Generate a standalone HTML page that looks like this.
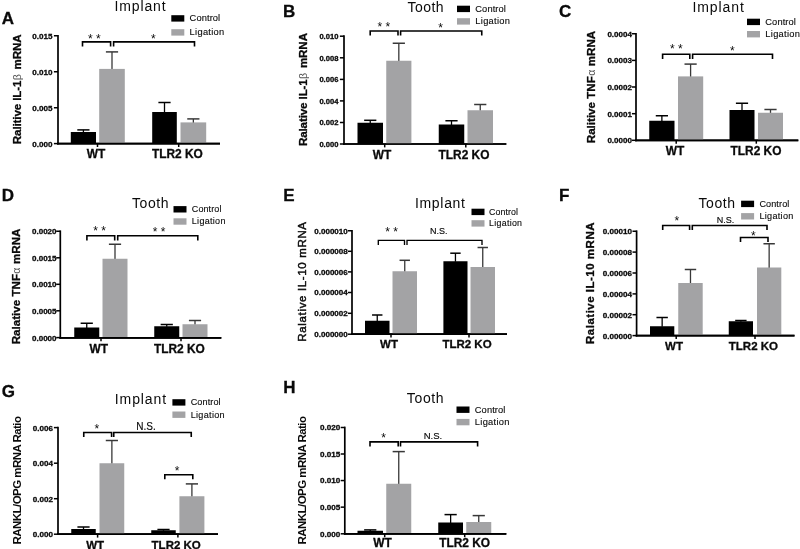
<!DOCTYPE html>
<html><head><meta charset="utf-8"><title>Figure</title>
<style>
html,body{margin:0;padding:0;background:#fff;}
body{width:800px;height:549px;overflow:hidden;}
svg{display:block;will-change:transform;filter:blur(0.35px);font-family:"Liberation Sans",sans-serif;fill:#111;}
svg text{fill:#0a0a0a;}
</style></head><body>
<svg width="800" height="549" viewBox="0 0 800 549">
<rect x="0" y="0" width="800" height="549" fill="#ffffff"/>
<g id="panel-A">
<line x1="58.00" y1="34.90" x2="58.00" y2="144.45" stroke="#000" stroke-width="1.7"/>
<line x1="57.15" y1="143.60" x2="220.00" y2="143.60" stroke="#000" stroke-width="1.7"/>
<line x1="53.90" y1="35.75" x2="58.00" y2="35.75" stroke="#000" stroke-width="1.5"/>
<text x="52.40" y="38.65" font-size="8.1" font-weight="bold" text-anchor="end"  stroke="#0a0a0a" stroke-width="0.3">0.015</text>
<line x1="53.90" y1="71.75" x2="58.00" y2="71.75" stroke="#000" stroke-width="1.5"/>
<text x="52.40" y="74.65" font-size="8.1" font-weight="bold" text-anchor="end"  stroke="#0a0a0a" stroke-width="0.3">0.010</text>
<line x1="53.90" y1="107.75" x2="58.00" y2="107.75" stroke="#000" stroke-width="1.5"/>
<text x="52.40" y="110.65" font-size="8.1" font-weight="bold" text-anchor="end"  stroke="#0a0a0a" stroke-width="0.3">0.005</text>
<line x1="53.90" y1="143.60" x2="58.00" y2="143.60" stroke="#000" stroke-width="1.5"/>
<text x="52.40" y="146.50" font-size="8.1" font-weight="bold" text-anchor="end"  stroke="#0a0a0a" stroke-width="0.3">0.000</text>
<line x1="97.50" y1="143.60" x2="97.50" y2="147.00" stroke="#000" stroke-width="1.5"/>
<line x1="178.70" y1="143.60" x2="178.70" y2="147.00" stroke="#000" stroke-width="1.5"/>
<line x1="83.40" y1="129.90" x2="83.40" y2="132.50" stroke="#000" stroke-width="1.3"/>
<line x1="77.30" y1="129.90" x2="89.50" y2="129.90" stroke="#000" stroke-width="1.5"/>
<rect x="70.80" y="132.00" width="25.20" height="11.60" fill="#000"/>
<line x1="112.00" y1="51.90" x2="112.00" y2="69.40" stroke="#383838" stroke-width="1.3"/>
<line x1="105.90" y1="51.90" x2="118.10" y2="51.90" stroke="#383838" stroke-width="1.5"/>
<rect x="99.20" y="68.90" width="25.60" height="74.70" fill="#a3a3a5"/>
<line x1="164.50" y1="102.50" x2="164.50" y2="112.50" stroke="#000" stroke-width="1.3"/>
<line x1="158.40" y1="102.50" x2="170.60" y2="102.50" stroke="#000" stroke-width="1.5"/>
<rect x="152.20" y="112.00" width="24.60" height="31.60" fill="#000"/>
<line x1="193.35" y1="118.90" x2="193.35" y2="122.90" stroke="#383838" stroke-width="1.3"/>
<line x1="187.25" y1="118.90" x2="199.45" y2="118.90" stroke="#383838" stroke-width="1.5"/>
<rect x="180.50" y="122.40" width="25.70" height="21.20" fill="#a3a3a5"/>
<line x1="57.15" y1="143.60" x2="220.00" y2="143.60" stroke="#000" stroke-width="1.7"/>
<polyline points="82.50,46.50 82.50,41.90 110.60,41.90 110.60,46.50" fill="none" stroke="#000" stroke-width="1.6"/>
<polyline points="113.60,46.50 113.60,41.90 194.50,41.90 194.50,46.50" fill="none" stroke="#000" stroke-width="1.6"/>
<text x="94.25" y="42.60" font-size="12" font-weight="normal" text-anchor="middle" >* *</text>
<text x="153.25" y="42.60" font-size="12" font-weight="normal" text-anchor="middle" >*</text>
<text x="96.00" y="158.30" font-size="11.9" font-weight="bold" text-anchor="middle"  stroke="#0a0a0a" stroke-width="0.3">WT</text>
<text x="177.40" y="158.30" font-size="11.9" font-weight="bold" text-anchor="middle"  stroke="#0a0a0a" stroke-width="0.3">TLR2 KO</text>
<text x="1.70" y="23.80" font-size="17" font-weight="bold" text-anchor="start"  stroke="#0a0a0a" stroke-width="0.3">A</text>
<text x="114.40" y="11.40" font-size="14" font-weight="normal" text-anchor="start" letter-spacing="0.9">Implant</text>
<rect x="171.30" y="15.20" width="13.00" height="6.40" fill="#000"/>
<rect x="171.30" y="29.20" width="13.00" height="6.40" fill="#a3a3a5"/>
<text x="189.60" y="21.30" font-size="9.3" font-weight="normal" text-anchor="start" letter-spacing="0.1" stroke="#0a0a0a" stroke-width="0.12">Control</text>
<text x="189.60" y="35.30" font-size="9.3" font-weight="normal" text-anchor="start" letter-spacing="0.3" stroke="#0a0a0a" stroke-width="0.12">Ligation</text>
<text x="0.00" y="0.00" font-size="11.6" font-weight="bold" text-anchor="middle" transform="translate(21.10,89.30) rotate(-90)" letter-spacing="-0.12" stroke="#0a0a0a" stroke-width="0.3">Ralitive IL-1<tspan dx="0.4" font-weight="normal" stroke="none" fill="#555" font-size="10.6">β</tspan><tspan dx="1.8"> </tspan>mRNA</text>
</g>
<g id="panel-B">
<line x1="344.00" y1="35.35" x2="344.00" y2="144.85" stroke="#000" stroke-width="1.7"/>
<line x1="343.15" y1="144.00" x2="506.30" y2="144.00" stroke="#000" stroke-width="1.7"/>
<line x1="339.90" y1="36.20" x2="344.00" y2="36.20" stroke="#000" stroke-width="1.5"/>
<text x="338.40" y="39.10" font-size="7.6" font-weight="bold" text-anchor="end"  stroke="#0a0a0a" stroke-width="0.3">0.010</text>
<line x1="339.90" y1="57.80" x2="344.00" y2="57.80" stroke="#000" stroke-width="1.5"/>
<text x="338.40" y="60.70" font-size="7.6" font-weight="bold" text-anchor="end"  stroke="#0a0a0a" stroke-width="0.3">0.008</text>
<line x1="339.90" y1="79.40" x2="344.00" y2="79.40" stroke="#000" stroke-width="1.5"/>
<text x="338.40" y="82.30" font-size="7.6" font-weight="bold" text-anchor="end"  stroke="#0a0a0a" stroke-width="0.3">0.006</text>
<line x1="339.90" y1="100.90" x2="344.00" y2="100.90" stroke="#000" stroke-width="1.5"/>
<text x="338.40" y="103.80" font-size="7.6" font-weight="bold" text-anchor="end"  stroke="#0a0a0a" stroke-width="0.3">0.004</text>
<line x1="339.90" y1="122.50" x2="344.00" y2="122.50" stroke="#000" stroke-width="1.5"/>
<text x="338.40" y="125.40" font-size="7.6" font-weight="bold" text-anchor="end"  stroke="#0a0a0a" stroke-width="0.3">0.002</text>
<line x1="339.90" y1="144.00" x2="344.00" y2="144.00" stroke="#000" stroke-width="1.5"/>
<text x="338.40" y="146.90" font-size="7.6" font-weight="bold" text-anchor="end"  stroke="#0a0a0a" stroke-width="0.3">0.000</text>
<line x1="384.70" y1="144.00" x2="384.70" y2="147.40" stroke="#000" stroke-width="1.5"/>
<line x1="465.80" y1="144.00" x2="465.80" y2="147.40" stroke="#000" stroke-width="1.5"/>
<line x1="370.25" y1="120.30" x2="370.25" y2="123.25" stroke="#000" stroke-width="1.3"/>
<line x1="364.15" y1="120.30" x2="376.35" y2="120.30" stroke="#000" stroke-width="1.5"/>
<rect x="357.50" y="122.75" width="25.50" height="21.25" fill="#000"/>
<line x1="398.82" y1="43.25" x2="398.82" y2="61.25" stroke="#383838" stroke-width="1.3"/>
<line x1="392.72" y1="43.25" x2="404.93" y2="43.25" stroke="#383838" stroke-width="1.5"/>
<rect x="386.25" y="60.75" width="25.15" height="83.25" fill="#a3a3a5"/>
<line x1="451.50" y1="120.75" x2="451.50" y2="125.00" stroke="#000" stroke-width="1.3"/>
<line x1="445.40" y1="120.75" x2="457.60" y2="120.75" stroke="#000" stroke-width="1.5"/>
<rect x="438.75" y="124.50" width="25.50" height="19.50" fill="#000"/>
<line x1="480.25" y1="104.50" x2="480.25" y2="110.75" stroke="#383838" stroke-width="1.3"/>
<line x1="474.15" y1="104.50" x2="486.35" y2="104.50" stroke="#383838" stroke-width="1.5"/>
<rect x="467.50" y="110.25" width="25.50" height="33.75" fill="#a3a3a5"/>
<line x1="343.15" y1="144.00" x2="506.30" y2="144.00" stroke="#000" stroke-width="1.7"/>
<polyline points="370.20,35.60 370.20,31.00 398.00,31.00 398.00,35.60" fill="none" stroke="#000" stroke-width="1.6"/>
<polyline points="400.60,35.60 400.60,31.00 481.75,31.00 481.75,35.60" fill="none" stroke="#000" stroke-width="1.6"/>
<text x="383.75" y="31.00" font-size="12" font-weight="normal" text-anchor="middle" >* *</text>
<text x="440.60" y="31.60" font-size="12" font-weight="normal" text-anchor="middle" >*</text>
<text x="382.00" y="158.80" font-size="11.9" font-weight="bold" text-anchor="middle"  stroke="#0a0a0a" stroke-width="0.3">WT</text>
<text x="464.00" y="158.80" font-size="11.9" font-weight="bold" text-anchor="middle"  stroke="#0a0a0a" stroke-width="0.3">TLR2 KO</text>
<text x="283.00" y="16.90" font-size="17" font-weight="bold" text-anchor="start"  stroke="#0a0a0a" stroke-width="0.3">B</text>
<text x="407.50" y="11.90" font-size="14" font-weight="normal" text-anchor="start" letter-spacing="0.45">Tooth</text>
<rect x="457.00" y="5.70" width="13.00" height="6.40" fill="#000"/>
<rect x="457.00" y="18.20" width="13.00" height="6.40" fill="#a3a3a5"/>
<text x="475.30" y="11.80" font-size="9.3" font-weight="normal" text-anchor="start" letter-spacing="0.1" stroke="#0a0a0a" stroke-width="0.12">Control</text>
<text x="475.30" y="24.30" font-size="9.3" font-weight="normal" text-anchor="start" letter-spacing="0.3" stroke="#0a0a0a" stroke-width="0.12">Ligation</text>
<text x="0.00" y="0.00" font-size="11.6" font-weight="bold" text-anchor="middle" transform="translate(306.90,89.60) rotate(-90)" letter-spacing="-0.12" stroke="#0a0a0a" stroke-width="0.3">Ralative IL-1<tspan dx="0.4" font-weight="normal" stroke="none" fill="#555" font-size="10.6">β</tspan><tspan dx="1.8"> </tspan>mRNA</text>
</g>
<g id="panel-C">
<line x1="636.00" y1="32.90" x2="636.00" y2="141.15" stroke="#000" stroke-width="1.7"/>
<line x1="635.15" y1="140.30" x2="798.30" y2="140.30" stroke="#000" stroke-width="1.7"/>
<line x1="631.90" y1="33.75" x2="636.00" y2="33.75" stroke="#000" stroke-width="1.5"/>
<text x="631.90" y="36.65" font-size="8.0" font-weight="bold" text-anchor="end"  stroke="#0a0a0a" stroke-width="0.3">0.0004</text>
<line x1="631.90" y1="60.40" x2="636.00" y2="60.40" stroke="#000" stroke-width="1.5"/>
<text x="631.90" y="63.30" font-size="8.0" font-weight="bold" text-anchor="end"  stroke="#0a0a0a" stroke-width="0.3">0.0003</text>
<line x1="631.90" y1="87.00" x2="636.00" y2="87.00" stroke="#000" stroke-width="1.5"/>
<text x="631.90" y="89.90" font-size="8.0" font-weight="bold" text-anchor="end"  stroke="#0a0a0a" stroke-width="0.3">0.0002</text>
<line x1="631.90" y1="113.70" x2="636.00" y2="113.70" stroke="#000" stroke-width="1.5"/>
<text x="631.90" y="116.60" font-size="8.0" font-weight="bold" text-anchor="end"  stroke="#0a0a0a" stroke-width="0.3">0.0001</text>
<line x1="631.90" y1="140.30" x2="636.00" y2="140.30" stroke="#000" stroke-width="1.5"/>
<text x="631.90" y="143.20" font-size="8.0" font-weight="bold" text-anchor="end"  stroke="#0a0a0a" stroke-width="0.3">0.0000</text>
<line x1="676.20" y1="140.30" x2="676.20" y2="143.70" stroke="#000" stroke-width="1.5"/>
<line x1="756.30" y1="140.30" x2="756.30" y2="143.70" stroke="#000" stroke-width="1.5"/>
<line x1="661.88" y1="115.75" x2="661.88" y2="121.25" stroke="#000" stroke-width="1.3"/>
<line x1="655.77" y1="115.75" x2="667.98" y2="115.75" stroke="#000" stroke-width="1.5"/>
<rect x="649.25" y="120.75" width="25.25" height="19.55" fill="#000"/>
<line x1="690.60" y1="64.10" x2="690.60" y2="76.90" stroke="#383838" stroke-width="1.3"/>
<line x1="684.50" y1="64.10" x2="696.70" y2="64.10" stroke="#383838" stroke-width="1.5"/>
<rect x="678.00" y="76.40" width="25.20" height="63.90" fill="#a3a3a5"/>
<line x1="742.00" y1="103.25" x2="742.00" y2="110.50" stroke="#000" stroke-width="1.3"/>
<line x1="735.90" y1="103.25" x2="748.10" y2="103.25" stroke="#000" stroke-width="1.5"/>
<rect x="729.50" y="110.00" width="25.00" height="30.30" fill="#000"/>
<line x1="770.50" y1="109.50" x2="770.50" y2="113.25" stroke="#383838" stroke-width="1.3"/>
<line x1="764.40" y1="109.50" x2="776.60" y2="109.50" stroke="#383838" stroke-width="1.5"/>
<rect x="758.00" y="112.75" width="25.00" height="27.55" fill="#a3a3a5"/>
<line x1="635.15" y1="140.30" x2="798.30" y2="140.30" stroke="#000" stroke-width="1.7"/>
<polyline points="662.60,58.90 662.60,54.30 689.80,54.30 689.80,58.90" fill="none" stroke="#000" stroke-width="1.6"/>
<polyline points="692.60,58.90 692.60,54.30 772.50,54.30 772.50,58.90" fill="none" stroke="#000" stroke-width="1.6"/>
<text x="676.30" y="53.10" font-size="12" font-weight="normal" text-anchor="middle" >* *</text>
<text x="732.30" y="54.90" font-size="12" font-weight="normal" text-anchor="middle" >*</text>
<text x="675.00" y="155.20" font-size="11.9" font-weight="bold" text-anchor="middle"  stroke="#0a0a0a" stroke-width="0.3">WT</text>
<text x="756.00" y="155.20" font-size="11.9" font-weight="bold" text-anchor="middle"  stroke="#0a0a0a" stroke-width="0.3">TLR2 KO</text>
<text x="559.00" y="17.40" font-size="17" font-weight="bold" text-anchor="start"  stroke="#0a0a0a" stroke-width="0.3">C</text>
<text x="692.50" y="11.50" font-size="14" font-weight="normal" text-anchor="start" letter-spacing="0.9">Implant</text>
<rect x="747.00" y="18.70" width="13.00" height="6.40" fill="#000"/>
<rect x="747.00" y="31.00" width="13.00" height="6.40" fill="#a3a3a5"/>
<text x="765.30" y="24.80" font-size="9.3" font-weight="normal" text-anchor="start" letter-spacing="0.1" stroke="#0a0a0a" stroke-width="0.12">Control</text>
<text x="765.30" y="37.10" font-size="9.3" font-weight="normal" text-anchor="start" letter-spacing="0.3" stroke="#0a0a0a" stroke-width="0.12">Ligation</text>
<text x="0.00" y="0.00" font-size="11.6" font-weight="bold" text-anchor="middle" transform="translate(594.60,87.00) rotate(-90)" letter-spacing="0" stroke="#0a0a0a" stroke-width="0.3">Ralitive TNF<tspan dx="0.4" font-weight="normal" stroke="none" fill="#555" font-size="10.6">α</tspan><tspan dx="0.3"> </tspan>mRNA</text>
</g>
<g id="panel-D">
<line x1="60.30" y1="230.40" x2="60.30" y2="338.65" stroke="#000" stroke-width="1.7"/>
<line x1="59.45" y1="337.80" x2="221.30" y2="337.80" stroke="#000" stroke-width="1.7"/>
<line x1="56.20" y1="231.25" x2="60.30" y2="231.25" stroke="#000" stroke-width="1.5"/>
<text x="56.50" y="234.15" font-size="8.0" font-weight="bold" text-anchor="end"  stroke="#0a0a0a" stroke-width="0.3">0.0020</text>
<line x1="56.20" y1="257.80" x2="60.30" y2="257.80" stroke="#000" stroke-width="1.5"/>
<text x="56.50" y="260.70" font-size="8.0" font-weight="bold" text-anchor="end"  stroke="#0a0a0a" stroke-width="0.3">0.0015</text>
<line x1="56.20" y1="284.30" x2="60.30" y2="284.30" stroke="#000" stroke-width="1.5"/>
<text x="56.50" y="287.20" font-size="8.0" font-weight="bold" text-anchor="end"  stroke="#0a0a0a" stroke-width="0.3">0.0010</text>
<line x1="56.20" y1="310.80" x2="60.30" y2="310.80" stroke="#000" stroke-width="1.5"/>
<text x="56.50" y="313.70" font-size="8.0" font-weight="bold" text-anchor="end"  stroke="#0a0a0a" stroke-width="0.3">0.0005</text>
<line x1="56.20" y1="337.60" x2="60.30" y2="337.60" stroke="#000" stroke-width="1.5"/>
<text x="56.50" y="340.50" font-size="8.0" font-weight="bold" text-anchor="end"  stroke="#0a0a0a" stroke-width="0.3">0.0000</text>
<line x1="101.00" y1="337.80" x2="101.00" y2="341.20" stroke="#000" stroke-width="1.5"/>
<line x1="181.00" y1="337.80" x2="181.00" y2="341.20" stroke="#000" stroke-width="1.5"/>
<line x1="86.75" y1="323.25" x2="86.75" y2="328.00" stroke="#000" stroke-width="1.3"/>
<line x1="80.65" y1="323.25" x2="92.85" y2="323.25" stroke="#000" stroke-width="1.5"/>
<rect x="74.25" y="327.50" width="25.00" height="10.30" fill="#000"/>
<line x1="115.00" y1="244.25" x2="115.00" y2="259.25" stroke="#383838" stroke-width="1.3"/>
<line x1="108.90" y1="244.25" x2="121.10" y2="244.25" stroke="#383838" stroke-width="1.5"/>
<rect x="102.50" y="258.75" width="25.00" height="79.05" fill="#a3a3a5"/>
<line x1="166.75" y1="324.50" x2="166.75" y2="326.75" stroke="#000" stroke-width="1.3"/>
<line x1="160.65" y1="324.50" x2="172.85" y2="324.50" stroke="#000" stroke-width="1.5"/>
<rect x="154.25" y="326.25" width="25.00" height="11.55" fill="#000"/>
<line x1="195.00" y1="320.50" x2="195.00" y2="324.75" stroke="#383838" stroke-width="1.3"/>
<line x1="188.90" y1="320.50" x2="201.10" y2="320.50" stroke="#383838" stroke-width="1.5"/>
<rect x="182.50" y="324.25" width="25.00" height="13.55" fill="#a3a3a5"/>
<line x1="59.45" y1="337.80" x2="221.30" y2="337.80" stroke="#000" stroke-width="1.7"/>
<polyline points="86.90,240.40 86.90,235.80 114.70,235.80 114.70,240.40" fill="none" stroke="#000" stroke-width="1.6"/>
<polyline points="117.70,240.40 117.70,235.80 197.80,235.80 197.80,240.40" fill="none" stroke="#000" stroke-width="1.6"/>
<text x="99.60" y="234.80" font-size="12" font-weight="normal" text-anchor="middle" >* *</text>
<text x="159.00" y="236.40" font-size="12" font-weight="normal" text-anchor="middle" >* *</text>
<text x="98.70" y="352.50" font-size="11.9" font-weight="bold" text-anchor="middle"  stroke="#0a0a0a" stroke-width="0.3">WT</text>
<text x="179.40" y="352.50" font-size="11.9" font-weight="bold" text-anchor="middle"  stroke="#0a0a0a" stroke-width="0.3">TLR2 KO</text>
<text x="1.70" y="200.70" font-size="17" font-weight="bold" text-anchor="start"  stroke="#0a0a0a" stroke-width="0.3">D</text>
<text x="131.90" y="207.70" font-size="14" font-weight="normal" text-anchor="start" letter-spacing="0.6">Tooth</text>
<rect x="173.50" y="206.10" width="13.00" height="6.40" fill="#000"/>
<rect x="173.50" y="218.30" width="13.00" height="6.40" fill="#a3a3a5"/>
<text x="191.80" y="212.20" font-size="9.0" font-weight="normal" text-anchor="start" letter-spacing="0.1" stroke="#0a0a0a" stroke-width="0.12">Control</text>
<text x="191.80" y="224.40" font-size="9.0" font-weight="normal" text-anchor="start" letter-spacing="0.3" stroke="#0a0a0a" stroke-width="0.12">Ligation</text>
<text x="0.00" y="0.00" font-size="11.6" font-weight="bold" text-anchor="middle" transform="translate(20.00,286.40) rotate(-90)" letter-spacing="0" stroke="#0a0a0a" stroke-width="0.3">Ralative TNF<tspan dx="0.4" font-weight="normal" stroke="none" fill="#555" font-size="10.6">α</tspan><tspan dx="0.3"> </tspan>mRNA</text>
</g>
<g id="panel-E">
<line x1="352.00" y1="229.90" x2="352.00" y2="335.05" stroke="#000" stroke-width="1.7"/>
<line x1="351.15" y1="334.20" x2="507.00" y2="334.20" stroke="#000" stroke-width="1.7"/>
<line x1="347.90" y1="230.75" x2="352.00" y2="230.75" stroke="#000" stroke-width="1.5"/>
<text x="347.70" y="233.65" font-size="8.0" font-weight="bold" text-anchor="end"  stroke="#0a0a0a" stroke-width="0.3">0.000010</text>
<line x1="347.90" y1="251.30" x2="352.00" y2="251.30" stroke="#000" stroke-width="1.5"/>
<text x="347.70" y="254.20" font-size="8.0" font-weight="bold" text-anchor="end"  stroke="#0a0a0a" stroke-width="0.3">0.000008</text>
<line x1="347.90" y1="271.90" x2="352.00" y2="271.90" stroke="#000" stroke-width="1.5"/>
<text x="347.70" y="274.80" font-size="8.0" font-weight="bold" text-anchor="end"  stroke="#0a0a0a" stroke-width="0.3">0.000006</text>
<line x1="347.90" y1="292.50" x2="352.00" y2="292.50" stroke="#000" stroke-width="1.5"/>
<text x="347.70" y="295.40" font-size="8.0" font-weight="bold" text-anchor="end"  stroke="#0a0a0a" stroke-width="0.3">0.000004</text>
<line x1="347.90" y1="313.30" x2="352.00" y2="313.30" stroke="#000" stroke-width="1.5"/>
<text x="347.70" y="316.20" font-size="8.0" font-weight="bold" text-anchor="end"  stroke="#0a0a0a" stroke-width="0.3">0.000002</text>
<line x1="347.90" y1="334.20" x2="352.00" y2="334.20" stroke="#000" stroke-width="1.5"/>
<text x="347.70" y="337.10" font-size="8.0" font-weight="bold" text-anchor="end"  stroke="#0a0a0a" stroke-width="0.3">0.000000</text>
<line x1="391.00" y1="334.20" x2="391.00" y2="337.60" stroke="#000" stroke-width="1.5"/>
<line x1="469.00" y1="334.20" x2="469.00" y2="337.60" stroke="#000" stroke-width="1.5"/>
<line x1="377.25" y1="315.00" x2="377.25" y2="321.25" stroke="#000" stroke-width="1.3"/>
<line x1="372.05" y1="315.00" x2="382.45" y2="315.00" stroke="#000" stroke-width="1.5"/>
<rect x="365.00" y="320.75" width="24.50" height="13.45" fill="#000"/>
<line x1="404.75" y1="260.30" x2="404.75" y2="271.75" stroke="#383838" stroke-width="1.3"/>
<line x1="399.55" y1="260.30" x2="409.95" y2="260.30" stroke="#383838" stroke-width="1.5"/>
<rect x="392.50" y="271.25" width="24.50" height="62.95" fill="#a3a3a5"/>
<line x1="455.45" y1="253.20" x2="455.45" y2="261.75" stroke="#000" stroke-width="1.3"/>
<line x1="450.25" y1="253.20" x2="460.65" y2="253.20" stroke="#000" stroke-width="1.5"/>
<rect x="443.40" y="261.25" width="24.10" height="72.95" fill="#000"/>
<line x1="482.75" y1="247.50" x2="482.75" y2="267.50" stroke="#383838" stroke-width="1.3"/>
<line x1="477.55" y1="247.50" x2="487.95" y2="247.50" stroke="#383838" stroke-width="1.5"/>
<rect x="470.50" y="267.00" width="24.50" height="67.20" fill="#a3a3a5"/>
<line x1="351.15" y1="334.20" x2="507.00" y2="334.20" stroke="#000" stroke-width="1.7"/>
<polyline points="378.30,244.90 378.30,240.30 404.50,240.30 404.50,244.90" fill="none" stroke="#000" stroke-width="1.35"/>
<polyline points="407.00,244.90 407.00,240.30 482.00,240.30 482.00,244.90" fill="none" stroke="#000" stroke-width="1.35"/>
<text x="391.50" y="236.20" font-size="12" font-weight="normal" text-anchor="middle" >* *</text>
<text x="438.70" y="234.00" font-size="9" font-weight="normal" text-anchor="middle" stroke="#0a0a0a" stroke-width="0.15">N.S.</text>
<text x="389.00" y="348.40" font-size="11.5" font-weight="bold" text-anchor="middle"  stroke="#0a0a0a" stroke-width="0.3">WT</text>
<text x="467.00" y="348.40" font-size="11.5" font-weight="bold" text-anchor="middle"  stroke="#0a0a0a" stroke-width="0.3">TLR2 KO</text>
<text x="283.20" y="201.30" font-size="17" font-weight="bold" text-anchor="start"  stroke="#0a0a0a" stroke-width="0.3">E</text>
<text x="414.90" y="207.50" font-size="14" font-weight="normal" text-anchor="start" letter-spacing="0.7">Implant</text>
<rect x="471.50" y="208.70" width="13.00" height="6.40" fill="#000"/>
<rect x="471.50" y="220.20" width="13.00" height="6.40" fill="#a3a3a5"/>
<text x="489.10" y="214.80" font-size="8.8" font-weight="normal" text-anchor="start" letter-spacing="0.1" stroke="#0a0a0a" stroke-width="0.12">Control</text>
<text x="489.10" y="226.30" font-size="8.8" font-weight="normal" text-anchor="start" letter-spacing="0.3" stroke="#0a0a0a" stroke-width="0.12">Ligation</text>
<text x="0.00" y="0.00" font-size="11.5" font-weight="normal" text-anchor="middle" transform="translate(306.00,281.50) rotate(-90)" letter-spacing="0.65" stroke="#0a0a0a" stroke-width="0.45">Ralative IL-10 mRNA</text>
</g>
<g id="panel-F">
<line x1="636.60" y1="230.40" x2="636.60" y2="336.45" stroke="#000" stroke-width="1.7"/>
<line x1="635.75" y1="335.60" x2="794.50" y2="335.60" stroke="#000" stroke-width="1.7"/>
<line x1="632.50" y1="231.25" x2="636.60" y2="231.25" stroke="#000" stroke-width="1.5"/>
<text x="632.10" y="234.15" font-size="8.1" font-weight="bold" text-anchor="end"  stroke="#0a0a0a" stroke-width="0.3">0.00010</text>
<line x1="632.50" y1="252.10" x2="636.60" y2="252.10" stroke="#000" stroke-width="1.5"/>
<text x="632.10" y="255.00" font-size="8.1" font-weight="bold" text-anchor="end"  stroke="#0a0a0a" stroke-width="0.3">0.00008</text>
<line x1="632.50" y1="273.00" x2="636.60" y2="273.00" stroke="#000" stroke-width="1.5"/>
<text x="632.10" y="275.90" font-size="8.1" font-weight="bold" text-anchor="end"  stroke="#0a0a0a" stroke-width="0.3">0.00006</text>
<line x1="632.50" y1="293.90" x2="636.60" y2="293.90" stroke="#000" stroke-width="1.5"/>
<text x="632.10" y="296.80" font-size="8.1" font-weight="bold" text-anchor="end"  stroke="#0a0a0a" stroke-width="0.3">0.00004</text>
<line x1="632.50" y1="314.70" x2="636.60" y2="314.70" stroke="#000" stroke-width="1.5"/>
<text x="632.10" y="317.60" font-size="8.1" font-weight="bold" text-anchor="end"  stroke="#0a0a0a" stroke-width="0.3">0.00002</text>
<line x1="632.50" y1="335.60" x2="636.60" y2="335.60" stroke="#000" stroke-width="1.5"/>
<text x="632.10" y="338.50" font-size="8.1" font-weight="bold" text-anchor="end"  stroke="#0a0a0a" stroke-width="0.3">0.00000</text>
<line x1="676.20" y1="335.60" x2="676.20" y2="339.00" stroke="#000" stroke-width="1.5"/>
<line x1="755.00" y1="335.60" x2="755.00" y2="339.00" stroke="#000" stroke-width="1.5"/>
<line x1="662.15" y1="317.50" x2="662.15" y2="326.75" stroke="#000" stroke-width="1.3"/>
<line x1="656.45" y1="317.50" x2="667.85" y2="317.50" stroke="#000" stroke-width="1.5"/>
<rect x="650.00" y="326.25" width="24.30" height="9.35" fill="#000"/>
<line x1="690.48" y1="269.50" x2="690.48" y2="283.50" stroke="#383838" stroke-width="1.3"/>
<line x1="684.77" y1="269.50" x2="696.18" y2="269.50" stroke="#383838" stroke-width="1.5"/>
<rect x="678.25" y="283.00" width="24.45" height="52.60" fill="#a3a3a5"/>
<line x1="740.88" y1="320.50" x2="740.88" y2="321.75" stroke="#000" stroke-width="1.3"/>
<line x1="735.17" y1="320.50" x2="746.58" y2="320.50" stroke="#000" stroke-width="1.5"/>
<rect x="728.75" y="321.25" width="24.25" height="14.35" fill="#000"/>
<line x1="769.15" y1="243.75" x2="769.15" y2="268.00" stroke="#383838" stroke-width="1.3"/>
<line x1="763.45" y1="243.75" x2="774.85" y2="243.75" stroke="#383838" stroke-width="1.5"/>
<rect x="757.00" y="267.50" width="24.30" height="68.10" fill="#a3a3a5"/>
<line x1="635.75" y1="335.60" x2="794.50" y2="335.60" stroke="#000" stroke-width="1.7"/>
<polyline points="662.70,230.10 662.70,225.50 689.60,225.50 689.60,230.10" fill="none" stroke="#000" stroke-width="1.6"/>
<polyline points="692.30,230.10 692.30,225.50 767.00,225.50 767.00,230.10" fill="none" stroke="#000" stroke-width="1.6"/>
<polyline points="740.50,242.10 740.50,237.50 768.00,237.50 768.00,242.10" fill="none" stroke="#000" stroke-width="1.6"/>
<text x="676.80" y="224.80" font-size="12" font-weight="normal" text-anchor="middle" >*</text>
<text x="725.50" y="222.60" font-size="9" font-weight="normal" text-anchor="middle" stroke="#0a0a0a" stroke-width="0.15">N.S.</text>
<text x="753.40" y="239.90" font-size="12" font-weight="normal" text-anchor="middle" >*</text>
<text x="674.00" y="350.10" font-size="11.5" font-weight="bold" text-anchor="middle"  stroke="#0a0a0a" stroke-width="0.3">WT</text>
<text x="753.40" y="350.10" font-size="11.5" font-weight="bold" text-anchor="middle"  stroke="#0a0a0a" stroke-width="0.3">TLR2 KO</text>
<text x="559.10" y="200.60" font-size="17" font-weight="bold" text-anchor="start"  stroke="#0a0a0a" stroke-width="0.3">F</text>
<text x="698.40" y="208.10" font-size="14" font-weight="normal" text-anchor="start" letter-spacing="0.6">Tooth</text>
<rect x="741.10" y="200.70" width="13.00" height="6.40" fill="#000"/>
<rect x="741.10" y="213.10" width="13.00" height="6.40" fill="#a3a3a5"/>
<text x="759.40" y="206.80" font-size="9.1" font-weight="normal" text-anchor="start" letter-spacing="0.1" stroke="#0a0a0a" stroke-width="0.12">Control</text>
<text x="759.40" y="219.20" font-size="9.1" font-weight="normal" text-anchor="start" letter-spacing="0.3" stroke="#0a0a0a" stroke-width="0.12">Ligation</text>
<text x="0.00" y="0.00" font-size="11.5" font-weight="bold" text-anchor="middle" transform="translate(594.10,283.00) rotate(-90)" letter-spacing="0.5" stroke="#0a0a0a" stroke-width="0.3">Ralative IL-10 mRNA</text>
</g>
<g id="panel-G">
<line x1="58.00" y1="426.75" x2="58.00" y2="535.05" stroke="#000" stroke-width="1.7"/>
<line x1="57.15" y1="534.20" x2="218.00" y2="534.20" stroke="#000" stroke-width="1.7"/>
<line x1="53.90" y1="427.60" x2="58.00" y2="427.60" stroke="#000" stroke-width="1.5"/>
<text x="53.10" y="430.50" font-size="8.1" font-weight="bold" text-anchor="end"  stroke="#0a0a0a" stroke-width="0.3">0.006</text>
<line x1="53.90" y1="463.20" x2="58.00" y2="463.20" stroke="#000" stroke-width="1.5"/>
<text x="53.10" y="466.10" font-size="8.1" font-weight="bold" text-anchor="end"  stroke="#0a0a0a" stroke-width="0.3">0.004</text>
<line x1="53.90" y1="498.70" x2="58.00" y2="498.70" stroke="#000" stroke-width="1.5"/>
<text x="53.10" y="501.60" font-size="8.1" font-weight="bold" text-anchor="end"  stroke="#0a0a0a" stroke-width="0.3">0.002</text>
<line x1="53.90" y1="534.20" x2="58.00" y2="534.20" stroke="#000" stroke-width="1.5"/>
<text x="53.10" y="537.10" font-size="8.1" font-weight="bold" text-anchor="end"  stroke="#0a0a0a" stroke-width="0.3">0.000</text>
<line x1="97.60" y1="534.20" x2="97.60" y2="537.60" stroke="#000" stroke-width="1.5"/>
<line x1="177.90" y1="534.20" x2="177.90" y2="537.60" stroke="#000" stroke-width="1.5"/>
<line x1="83.50" y1="527.00" x2="83.50" y2="529.50" stroke="#000" stroke-width="1.3"/>
<line x1="77.40" y1="527.00" x2="89.60" y2="527.00" stroke="#000" stroke-width="1.5"/>
<rect x="71.25" y="529.00" width="24.50" height="5.20" fill="#000"/>
<line x1="111.88" y1="440.50" x2="111.88" y2="463.75" stroke="#383838" stroke-width="1.3"/>
<line x1="105.78" y1="440.50" x2="117.97" y2="440.50" stroke="#383838" stroke-width="1.5"/>
<rect x="99.50" y="463.25" width="24.75" height="70.95" fill="#a3a3a5"/>
<line x1="163.50" y1="529.50" x2="163.50" y2="530.75" stroke="#000" stroke-width="1.3"/>
<line x1="157.40" y1="529.50" x2="169.60" y2="529.50" stroke="#000" stroke-width="1.5"/>
<rect x="151.25" y="530.25" width="24.50" height="3.95" fill="#000"/>
<line x1="191.90" y1="483.90" x2="191.90" y2="496.75" stroke="#383838" stroke-width="1.3"/>
<line x1="185.80" y1="483.90" x2="198.00" y2="483.90" stroke="#383838" stroke-width="1.5"/>
<rect x="179.40" y="496.25" width="25.00" height="37.95" fill="#a3a3a5"/>
<line x1="57.15" y1="534.20" x2="218.00" y2="534.20" stroke="#000" stroke-width="1.7"/>
<polyline points="83.75,437.10 83.75,432.50 111.60,432.50 111.60,437.10" fill="none" stroke="#000" stroke-width="1.6"/>
<polyline points="113.75,437.10 113.75,432.50 191.25,432.50 191.25,437.10" fill="none" stroke="#000" stroke-width="1.6"/>
<polyline points="164.80,479.30 164.80,474.70 192.80,474.70 192.80,479.30" fill="none" stroke="#000" stroke-width="1.6"/>
<text x="96.90" y="432.60" font-size="12" font-weight="normal" text-anchor="middle" >*</text>
<text x="146.00" y="429.50" font-size="10" font-weight="normal" text-anchor="middle" stroke="#0a0a0a" stroke-width="0.15">N.S.</text>
<text x="177.20" y="474.50" font-size="12" font-weight="normal" text-anchor="middle" >*</text>
<text x="95.20" y="549.40" font-size="11.5" font-weight="bold" text-anchor="middle"  stroke="#0a0a0a" stroke-width="0.3">WT</text>
<text x="176.20" y="549.40" font-size="11.5" font-weight="bold" text-anchor="middle"  stroke="#0a0a0a" stroke-width="0.3">TLR2 KO</text>
<text x="1.70" y="396.90" font-size="17" font-weight="bold" text-anchor="start"  stroke="#0a0a0a" stroke-width="0.3">G</text>
<text x="114.80" y="404.10" font-size="14" font-weight="normal" text-anchor="start" letter-spacing="0.9">Implant</text>
<rect x="172.40" y="399.20" width="13.00" height="6.40" fill="#000"/>
<rect x="172.40" y="411.50" width="13.00" height="6.40" fill="#a3a3a5"/>
<text x="190.70" y="405.30" font-size="9.1" font-weight="normal" text-anchor="start" letter-spacing="0.1" stroke="#0a0a0a" stroke-width="0.12">Control</text>
<text x="190.70" y="417.60" font-size="9.1" font-weight="normal" text-anchor="start" letter-spacing="0.3" stroke="#0a0a0a" stroke-width="0.12">Ligation</text>
<text x="0.00" y="0.00" font-size="11.5" font-weight="bold" text-anchor="middle" transform="translate(20.60,480.50) rotate(-90)" letter-spacing="-0.55" stroke-opacity="0" stroke="#0a0a0a" stroke-width="0.3">RANKL/OPG mRNA Ratio</text>
</g>
<g id="panel-H">
<line x1="344.80" y1="426.65" x2="344.80" y2="534.65" stroke="#000" stroke-width="1.7"/>
<line x1="343.95" y1="533.80" x2="506.30" y2="533.80" stroke="#000" stroke-width="1.7"/>
<line x1="340.70" y1="427.50" x2="344.80" y2="427.50" stroke="#000" stroke-width="1.5"/>
<text x="340.30" y="430.40" font-size="8.1" font-weight="bold" text-anchor="end"  stroke="#0a0a0a" stroke-width="0.3">0.020</text>
<line x1="340.70" y1="454.00" x2="344.80" y2="454.00" stroke="#000" stroke-width="1.5"/>
<text x="340.30" y="456.90" font-size="8.1" font-weight="bold" text-anchor="end"  stroke="#0a0a0a" stroke-width="0.3">0.015</text>
<line x1="340.70" y1="480.55" x2="344.80" y2="480.55" stroke="#000" stroke-width="1.5"/>
<text x="340.30" y="483.45" font-size="8.1" font-weight="bold" text-anchor="end"  stroke="#0a0a0a" stroke-width="0.3">0.010</text>
<line x1="340.70" y1="507.15" x2="344.80" y2="507.15" stroke="#000" stroke-width="1.5"/>
<text x="340.30" y="510.05" font-size="8.1" font-weight="bold" text-anchor="end"  stroke="#0a0a0a" stroke-width="0.3">0.005</text>
<line x1="340.70" y1="533.80" x2="344.80" y2="533.80" stroke="#000" stroke-width="1.5"/>
<text x="340.30" y="536.70" font-size="8.1" font-weight="bold" text-anchor="end"  stroke="#0a0a0a" stroke-width="0.3">0.000</text>
<line x1="384.70" y1="533.80" x2="384.70" y2="537.20" stroke="#000" stroke-width="1.5"/>
<line x1="464.70" y1="533.80" x2="464.70" y2="537.20" stroke="#000" stroke-width="1.5"/>
<line x1="370.25" y1="529.90" x2="370.25" y2="531.25" stroke="#000" stroke-width="1.3"/>
<line x1="364.15" y1="529.90" x2="376.35" y2="529.90" stroke="#000" stroke-width="1.5"/>
<rect x="357.50" y="530.75" width="25.50" height="3.05" fill="#000"/>
<line x1="398.75" y1="451.60" x2="398.75" y2="484.25" stroke="#383838" stroke-width="1.3"/>
<line x1="392.65" y1="451.60" x2="404.85" y2="451.60" stroke="#383838" stroke-width="1.5"/>
<rect x="386.25" y="483.75" width="25.00" height="50.05" fill="#a3a3a5"/>
<line x1="450.62" y1="514.60" x2="450.62" y2="523.00" stroke="#000" stroke-width="1.3"/>
<line x1="444.52" y1="514.60" x2="456.73" y2="514.60" stroke="#000" stroke-width="1.5"/>
<rect x="438.25" y="522.50" width="24.75" height="11.30" fill="#000"/>
<line x1="478.75" y1="515.60" x2="478.75" y2="522.50" stroke="#383838" stroke-width="1.3"/>
<line x1="472.65" y1="515.60" x2="484.85" y2="515.60" stroke="#383838" stroke-width="1.5"/>
<rect x="466.25" y="522.00" width="25.00" height="11.80" fill="#a3a3a5"/>
<line x1="343.95" y1="533.80" x2="506.30" y2="533.80" stroke="#000" stroke-width="1.7"/>
<polyline points="370.00,446.50 370.00,441.90 398.20,441.90 398.20,446.50" fill="none" stroke="#000" stroke-width="1.6"/>
<polyline points="400.50,446.50 400.50,441.90 477.60,441.90 477.60,446.50" fill="none" stroke="#000" stroke-width="1.6"/>
<text x="383.50" y="441.60" font-size="12" font-weight="normal" text-anchor="middle" >*</text>
<text x="432.90" y="439.00" font-size="9.5" font-weight="normal" text-anchor="middle" stroke="#0a0a0a" stroke-width="0.15">N.S.</text>
<text x="382.50" y="547.20" font-size="11.9" font-weight="bold" text-anchor="middle"  stroke="#0a0a0a" stroke-width="0.3">WT</text>
<text x="464.60" y="547.20" font-size="11.9" font-weight="bold" text-anchor="middle"  stroke="#0a0a0a" stroke-width="0.3">TLR2 KO</text>
<text x="283.20" y="392.60" font-size="17" font-weight="bold" text-anchor="start"  stroke="#0a0a0a" stroke-width="0.3">H</text>
<text x="406.80" y="403.40" font-size="14" font-weight="normal" text-anchor="start" letter-spacing="0.65">Tooth</text>
<rect x="456.50" y="406.50" width="13.00" height="6.40" fill="#000"/>
<rect x="456.50" y="418.90" width="13.00" height="6.40" fill="#a3a3a5"/>
<text x="474.80" y="412.60" font-size="9.3" font-weight="normal" text-anchor="start" letter-spacing="0.1" stroke="#0a0a0a" stroke-width="0.12">Control</text>
<text x="474.80" y="425.00" font-size="9.3" font-weight="normal" text-anchor="start" letter-spacing="0.3" stroke="#0a0a0a" stroke-width="0.12">Ligation</text>
<text x="0.00" y="0.00" font-size="11.5" font-weight="bold" text-anchor="middle" transform="translate(306.40,480.50) rotate(-90)" letter-spacing="-0.55" stroke-opacity="0" stroke="#0a0a0a" stroke-width="0.3">RANKL/OPG mRNA Ratio</text>
</g>
</svg>
</body></html>
